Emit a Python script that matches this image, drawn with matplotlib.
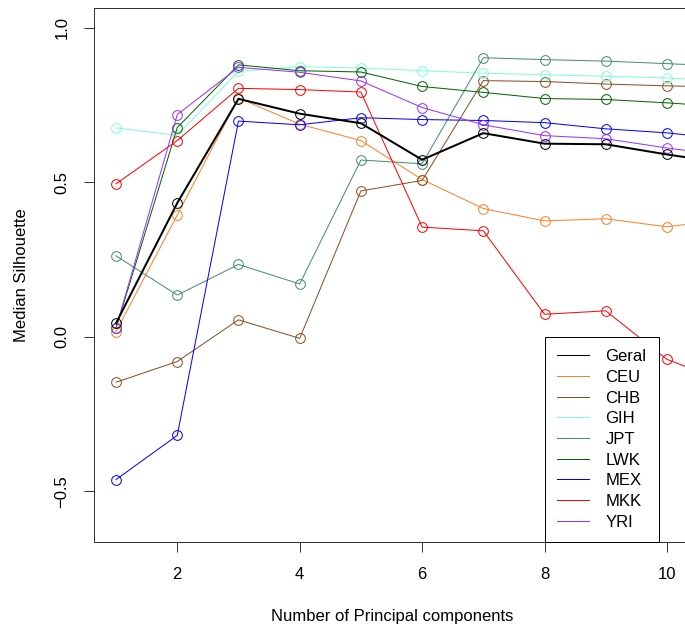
import matplotlib
matplotlib.use("Agg")
import matplotlib.pyplot as plt
from matplotlib.lines import Line2D

plt.rcParams['font.family'] = ['Liberation Sans', 'DejaVu Sans']

# number of principal components
n_pcs = [1, 2, 3, 4, 5, 6, 7, 8, 9, 10, 11]

# median silhouette per population
geral = [0.044, 0.433, 0.770, 0.722, 0.691, 0.573, 0.659, 0.625, 0.623, 0.590, 0.561]
ceu = [0.017, 0.394, 0.773, 0.688, 0.635, 0.509, 0.415, 0.375, 0.382, 0.356, 0.381]
chb = [-0.147, -0.080, 0.055, -0.005, 0.472, 0.506, 0.829, 0.826, 0.818, 0.812, 0.808]
gih = [0.676, 0.652, 0.859, 0.874, 0.870, 0.861, 0.853, 0.848, 0.843, 0.838, 0.826]
jpt = [0.262, 0.135, 0.234, 0.171, 0.572, 0.560, 0.903, 0.897, 0.892, 0.884, 0.875]
lwk = [0.028, 0.677, 0.880, 0.861, 0.857, 0.810, 0.791, 0.771, 0.768, 0.757, 0.744]
mex = [-0.462, -0.319, 0.698, 0.686, 0.709, 0.703, 0.700, 0.693, 0.673, 0.660, 0.639]
mkk = [0.495, 0.635, 0.804, 0.800, 0.792, 0.355, 0.343, 0.073, 0.084, -0.073, -0.149]
yri = [0.028, 0.719, 0.872, 0.856, 0.828, 0.742, 0.686, 0.651, 0.641, 0.611, 0.586]

labels = ['Geral', 'CEU', 'CHB', 'GIH', 'JPT', 'LWK', 'MEX', 'MKK', 'YRI']
colors = ['black', '#FF7F24', '#8B4C26', '#7FFFD4', '#458B74', '#006400',
          '#0000FF', '#FF0000', '#9B30FF']
series = [geral, ceu, chb, gih, jpt, lwk, mex, mkk, yri]

W, H = 685, 628
fig = plt.figure(figsize=(W / 100, H / 100), dpi=100)
# the right edge of the plot region is cut off in the original
ax = fig.add_axes([94 / W, (H - 542) / H, (689 - 94) / W, (542 - 8) / H])

px = 0.72  # one pixel in points
# draw the coloured lines first, the black summary line over them
order = list(range(1, len(series))) + [0]
for i in order:
    lw = 2 * px if i == 0 else 1 * px
    ax.plot(n_pcs, series[i], color=colors[i], lw=lw, marker='o',
            markersize=7, markerfacecolor='none', markeredgecolor=colors[i],
            markeredgewidth=1 * px, zorder=3 if i == 0 else 2)

ax.set_xlim(0.64, 10.36)
ax.set_ylim(-0.664, 1.064)
ax.set_xticks([2, 4, 6, 8, 10])
ax.set_yticks([-0.5, 0.0, 0.5, 1.0])
ax.set_yticklabels(['\u22120.5', '0.0', '0.5', '1.0'], rotation=90, va='center')
ax.tick_params(axis='both', direction='out', length=7, width=1 * px,
               labelsize=12, color='#333333')
ax.tick_params(axis='x', pad=11)
ax.tick_params(axis='y', pad=10.5)
for s in ax.spines.values():
    s.set_linewidth(1 * px)
    s.set_color('#333333')

fig.text(392.5 / W, 1 - 616 / H, 'Number of Principal components',
         ha='center', va='center', fontsize=12)
fig.text(22 / W, 1 - 275 / H, 'Median Silhouette', rotation=90,
         ha='center', va='center', fontsize=12)

handles = [Line2D([], [], color=c, lw=1 * px) for c in colors]
leg = ax.legend(handles, labels, loc='upper left', bbox_to_anchor=(8, 0),
                bbox_transform=ax.transData, borderaxespad=0, fontsize=12,
                frameon=True, fancybox=False, framealpha=1, edgecolor='black',
                handlelength=1.9, handletextpad=1.0, labelspacing=0.34,
                borderpad=0.75)
leg.get_frame().set_linewidth(1 * px)

fig.savefig('out.png', dpi=100)
